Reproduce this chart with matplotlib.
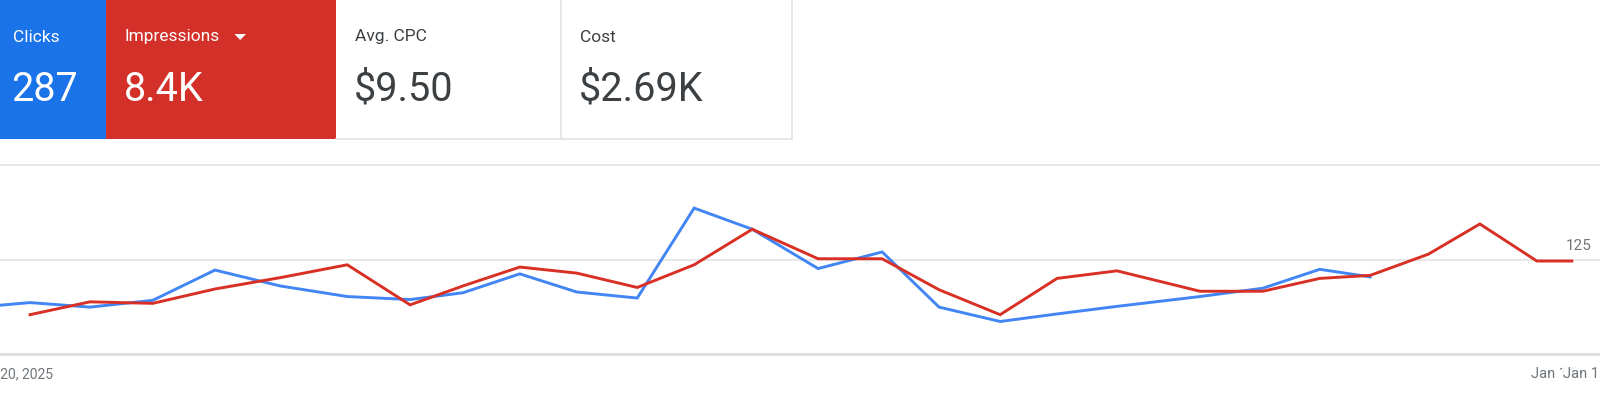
import matplotlib
matplotlib.use("Agg")
import matplotlib.pyplot as plt
from matplotlib.patches import Rectangle, Polygon

plt.rcParams['font.family'] = ['Roboto', 'DejaVu Sans']

# Scorecards
card_labels = ['Clicks', 'Impressions', 'Avg. CPC', 'Cost']
card_values = ['287', '8.4K', '$9.50', '$2.69K']

# Days since Dec 20 for each point
days = [0, 1.01, 2.07, 3.12, 4.22, 5.35, 6.41, 7.30, 8.26, 9.22, 10.24, 11.20,
        12.18, 13.29, 14.37, 15.33, 16.36, 17.32, 18.33, 19.73, 20.79, 21.75,
        22.60, 23.58, 24.45, 25.41, 26.00]
clicks_days = [-1.01] + days[:23]
clicks = [61, 68, 62, 71, 111, 90, 76, 72, 81, 106, 82, 74, 193, 165, 113,
          135, 62, 43, 53, 63, 76, 87, 112, 102]
impressions = [52, 69, 67, 86, 101, 118, 65, 90, 115, 107, 88, 118, 165, 126,
               126, 85, 52, 100, 110, 83, 83, 100, 104, 132, 172, 123, 123]
grid_values = [0, 125, 250]
first_label = 'Dec 20, 2025'
last_labels = ['Jan 14', 'Jan 15']

BLUE_CARD = '#1a73e8'
RED_CARD = '#d3302a'
BLUE_LINE = '#4285f4'
RED_LINE = '#d93025'
GREY_TEXT = '#70757a'
DARK_TEXT = '#3c4043'

fig = plt.figure(figsize=(16, 4), dpi=100)
fig.patch.set_facecolor('white')

# overlay in pixel units for the header cards and loose labels
ov = fig.add_axes([0, 0, 1, 1])
ov.set_xlim(0, 1600)
ov.set_ylim(400, 0)
ov.axis('off')

card_edges = [0, 106, 336, 561, 792]
card_fill = [BLUE_CARD, RED_CARD, 'white', 'white']
for i, (lab, val) in enumerate(zip(card_labels, card_values)):
    x0, x1 = card_edges[i], card_edges[i + 1]
    ov.add_patch(Rectangle((x0, 0), x1 - x0, 139, facecolor=card_fill[i],
                           edgecolor='none', zorder=1))
    fg = 'white' if card_fill[i] != 'white' else DARK_TEXT
    ov.text(x0 + 13 + (6 if i > 0 else 0), 37, lab, color=fg, fontsize=12.5,
            va='center', ha='left', zorder=3)
    ov.text(x0 + 11 + (7 if i > 0 else 0), 101, val, color=fg, fontsize=28.5,
            va='baseline', ha='left', zorder=3)

# dropdown arrow next to "Impressions"
ov.add_patch(Polygon([[234.5, 34], [246, 34], [240.2, 40]], closed=True,
                     facecolor='white', edgecolor='none', zorder=3))
# card borders
ov.plot([561, 561], [0, 139], color='#e3e3e3', lw=1.2, zorder=2)
ov.plot([792, 792], [0, 139], color='#e3e3e3', lw=1.2, zorder=2)
ov.plot([336, 792], [139, 139], color='#e3e3e3', lw=1.2, zorder=2)

# chart
px_per_day = 59.3
ax = fig.add_axes([0, 46 / 400, 1, 189 / 400])
ax.set_xlim(-30 / px_per_day, 1570 / px_per_day)
ax.set_ylim(0, 250)
ax.axis('off')
for g in grid_values:
    ax.axhline(g, color='#dadce0' if g == 0 else '#e6e6e6',
               lw=2.0 if g == 0 else 1.3, zorder=1, clip_on=False)

ax.plot(clicks_days, clicks, color=BLUE_LINE, lw=2.1, zorder=3,
        solid_joinstyle='miter')
ax.plot(days, impressions, color=RED_LINE, lw=2.1, zorder=4,
        solid_joinstyle='miter')

ax.text(0.995, 143, '125', transform=ax.get_yaxis_transform(), ha='right',
        va='center', fontsize=11, color=GREY_TEXT)

ov.text(53, 374, first_label, ha='right', va='center', fontsize=10,
        color=GREY_TEXT)
ov.text(1531, 374, last_labels[0], ha='left', va='center', fontsize=10.5,
        color=GREY_TEXT)
# the last date label runs over the previous one and off the right edge
ov.text(1563, 374, last_labels[1], ha='left', va='center', fontsize=10.5,
        color=GREY_TEXT, bbox=dict(boxstyle='square,pad=0.1', fc='white',
                                   ec='none', alpha=0.9))

fig.savefig('out.png', dpi=100, facecolor='white')
